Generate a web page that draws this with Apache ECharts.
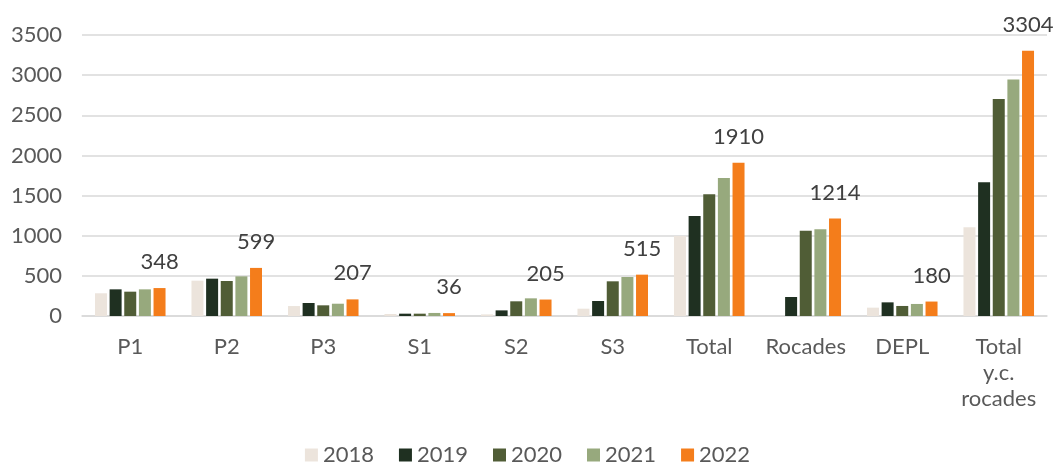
<!DOCTYPE html>
<html>
<head>
<meta charset="utf-8">
<script src="https://cdn.jsdelivr.net/npm/echarts@6/dist/echarts.min.js"></script>
<style>
  html, body { margin: 0; padding: 0; background: #fff; }
  #chart { width: 1055px; height: 466px; }
</style>
</head>
<body>
<div id="chart"></div>
<script>
// categories on the x axis
const categories = ['P1', 'P2', 'P3', 'S1', 'S2', 'S3', 'Total', 'Rocades', 'DEPL', 'Total\ny.c.\nrocades']
const years = ['2018', '2019', '2020', '2021', '2022']

// values per year
const v2018 = [283, 440, 124, 25, 20, 91, 996, 0, 104, 1104]
const v2019 = [332, 465, 162, 29, 70, 187, 1245, 237, 170, 1665]
const v2020 = [303, 436, 133, 29, 183, 432, 1515, 1062, 125, 2702]
const v2021 = [332, 494, 153, 38, 220, 486, 1718, 1079, 150, 2947]
const v2022 = [348, 599, 207, 36, 205, 515, 1910, 1214, 180, 3304]

const colors = ['#ece4dc', '#1f3021', '#505d36', '#97a97d', '#f47d1b']
const font = 'Lato, "Open Sans", sans-serif'
const fs = 22

let chart = echarts.init(document.getElementById('chart'))

let seriesData = [v2018, v2019, v2020, v2021, v2022]
let series = seriesData.map((d, i) => {
  let s = {
    name: years[i],
    type: 'bar',
    data: d,
    barWidth: 12,
    barGap: '22%',
    itemStyle: { color: colors[i] }
  }
  // only the last year gets value labels
  if (i === 4) {
    s.label = {
      show: true,
      position: 'top',
      distance: 15,
      color: '#404040',
      fontFamily: font,
      fontSize: fs
    }
  }
  return s
})

let option = {
  animation: false,
  textStyle: { fontFamily: font },
  color: colors,
  grid: { left: 82, right: 8, top: 35, bottom: 150 },
  legend: {
    data: years,
    top: 439,
    left: 'center',
    itemWidth: 13,
    itemHeight: 13,
    itemGap: 25,
    icon: 'rect',
    textStyle: { color: '#595959', fontSize: fs, fontFamily: font }
  },
  xAxis: {
    type: 'category',
    data: categories,
    axisTick: { show: false },
    axisLine: { lineStyle: { color: '#d9d9d9', width: 1.5 } },
    axisLabel: {
      color: '#595959',
      fontSize: fs,
      fontFamily: font,
      margin: 18,
      lineHeight: 26,
      interval: 0
    }
  },
  yAxis: {
    type: 'value',
    min: 0,
    max: 3500,
    interval: 500,
    axisLine: { show: false },
    axisTick: { show: false },
    splitLine: { lineStyle: { color: '#d9d9d9', width: 1.5 } },
    axisLabel: {
      color: '#595959',
      fontSize: fs,
      fontFamily: font,
      margin: 20,
      formatter: v => String(v)
    }
  },
  series: series
}

chart.setOption(option)
</script>
</body>
</html>
